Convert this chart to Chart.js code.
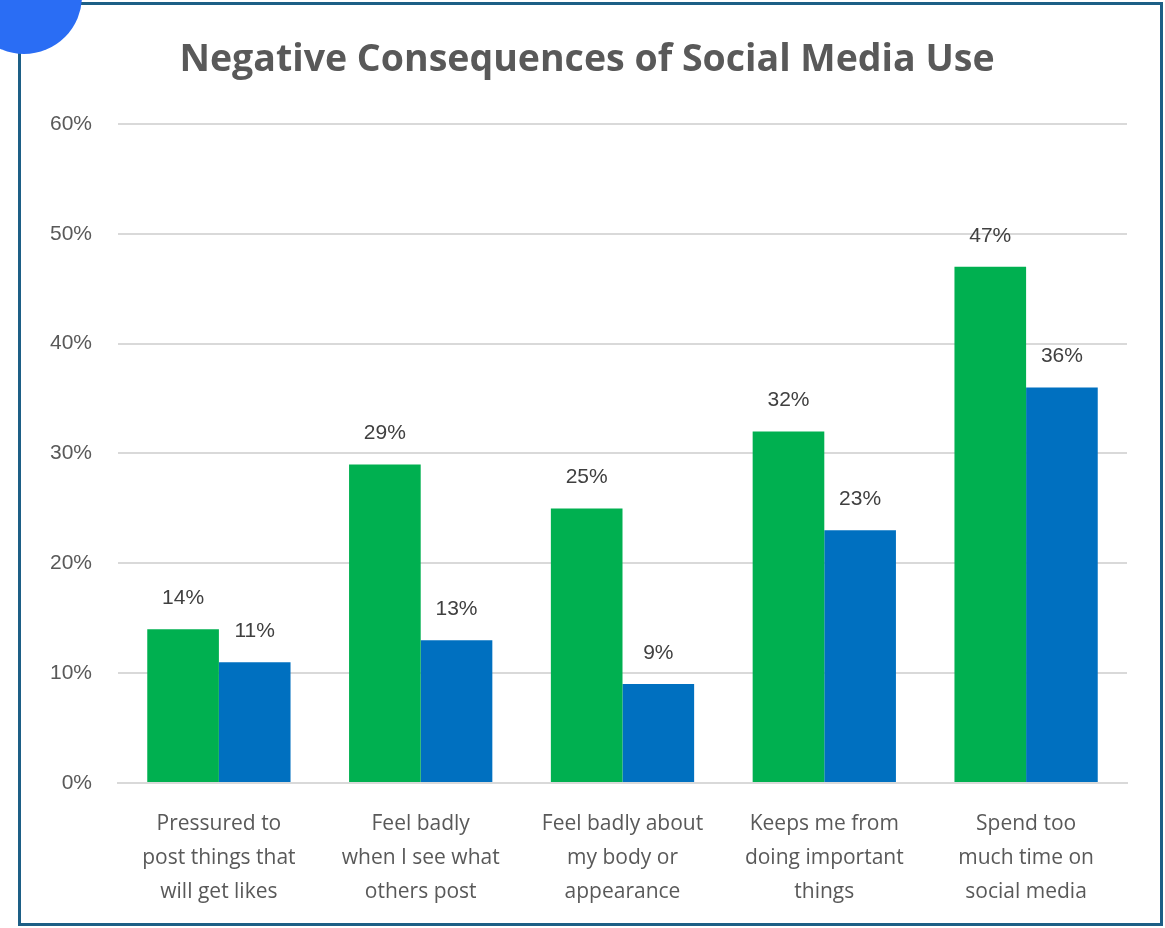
<!DOCTYPE html>
<html>
<head>
<meta charset="utf-8">
<script src="https://cdn.jsdelivr.net/npm/chart.js@4"></script>
<style>
  html, body { margin: 0; padding: 0; background: #fff; }
  #wrap { width: 1165px; height: 928px; position: relative; }
</style>
</head>
<body>
<div id="wrap"><canvas id="chart"></canvas></div>
<script>
const categories = [
    ["Pressured to", "post things that", "will get likes"],
    ["Feel badly", "when I see what", "others post"],
    ["Feel badly about", "my body or", "appearance"],
    ["Keeps me from", "doing important", "things"],
    ["Spend too", "much time on", "social media"]
];
const greenValues = [14, 29, 25, 32, 47];
const blueValues = [11, 13, 9, 23, 36];
const yTicks = [0, 10, 20, 30, 40, 50, 60];

const fontFamily = "'Open Sans', 'Noto Sans', sans-serif";
const numFont = "'Liberation Sans', Arial, sans-serif";

const framePlugin = {
    id: "frame",
    beforeDraw(chart) {
        const ctx = chart.ctx;
        ctx.save();
        ctx.fillStyle = "#ffffff";
        ctx.fillRect(0, 0, chart.width, chart.height);
        ctx.strokeStyle = "#1d5f86";
        ctx.lineWidth = 3;
        ctx.strokeRect(19.5, 3.5, 1142, 921);
        ctx.fillStyle = "#2a6df4";
        ctx.beginPath();
        ctx.arc(24, -4, 58, 0, Math.PI * 2);
        ctx.fill();
        ctx.restore();
    }
};

const labelPlugin = {
    id: "barLabels",
    afterDatasetsDraw(chart) {
        const ctx = chart.ctx;
        ctx.save();
        ctx.font = "21px " + numFont;
        ctx.fillStyle = "#404040";
        ctx.textAlign = "center";
        ctx.textBaseline = "middle";
        chart.data.datasets.forEach((ds, i) => {
            chart.getDatasetMeta(i).data.forEach((bar, j) => {
                ctx.fillText(ds.data[j] + "%", bar.x, bar.y - 31);
            });
        });
        ctx.restore();
    }
};

new Chart(document.getElementById("chart"), {
    type: "bar",
    data: {
        labels: categories,
        datasets: [
            { label: "Green", data: greenValues, backgroundColor: "#00b050" },
            { label: "Blue", data: blueValues, backgroundColor: "#0070c0" }
        ]
    },
    options: {
        responsive: true,
        maintainAspectRatio: false,
        animation: false,
        layout: { padding: { left: 47, right: 38, top: 30, bottom: 3 } },
        datasets: { bar: { categoryPercentage: 0.71, barPercentage: 1 } },
        plugins: {
            legend: { display: false },
            tooltip: { enabled: false },
            title: {
                display: true,
                text: "Negative Consequences of Social Media Use",
                color: "#595959",
                font: { family: fontFamily, size: 37.5, weight: "bold" },
                padding: { top: 8, bottom: 41 }
            }
        },
        scales: {
            x: {
                grid: { display: false },
                border: { color: "#d9d9d9", width: 2 },
                ticks: {
                    color: "#595959",
                    font: { family: fontFamily, size: 21, lineHeight: 1.62 },
                    padding: 16,
                    maxRotation: 0
                }
            },
            y: {
                min: 0,
                max: 60,
                afterBuildTicks(scale) {
                    scale.ticks = yTicks.map(v => ({ value: v }));
                },
                afterFit(scale) { scale.width = 71; },
                grid: { color: "#d9d9d9", lineWidth: 2, drawTicks: false },
                border: { display: false },
                ticks: {
                    color: "#595959",
                    font: { family: numFont, size: 21 },
                    padding: 26,
                    callback: v => v + "%"
                }
            }
        }
    },
    plugins: [framePlugin, labelPlugin]
});
</script>
</body>
</html>
